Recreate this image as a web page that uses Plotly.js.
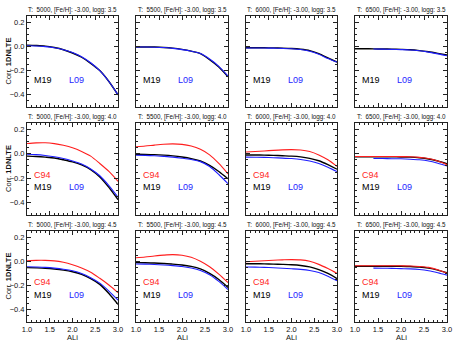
<!DOCTYPE html>
<html>
<head>
<meta charset="utf-8">
<script src="https://cdn.plot.ly/plotly-3.0.1.min.js"></script>
<style>
	body { margin: 0; padding: 0; background: #fff; }
	#graph { width: 471px; height: 356px; }
</style>
</head>
<body>
<div id="graph"></div>
<script>
"use strict";
// abundance grid (x axis)
var aLi = [1.0, 1.2, 1.4, 1.6, 1.8, 2.0, 2.2, 2.4, 2.6, 2.8, 3.0];
var teffs = [5000, 5500, 6000, 6500];
var loggs = ['3.5', '4.0', '4.5'];
var feh = '-3.00';

// logg 3.5, one list per Teff
var m19_g35 = [
	[0.01, 0.007, 0.002, -0.01, -0.028, -0.055, -0.09, -0.14, -0.2, -0.29, -0.40],
	[-0.005, -0.005, -0.006, -0.009, -0.015, -0.025, -0.04, -0.06, -0.11, -0.17, -0.25],
	[-0.012, -0.012, -0.012, -0.013, -0.015, -0.018, -0.024, -0.035, -0.06, -0.095, -0.13],
	[-0.02, -0.02, -0.021, -0.022, -0.023, -0.025, -0.028, -0.035, -0.045, -0.058, -0.072]
];
var l09_g35 = [
	[0.005, 0.003, -0.002, -0.012, -0.028, -0.05, -0.085, -0.135, -0.2, -0.29, -0.40],
	[-0.005, -0.005, -0.007, -0.01, -0.017, -0.027, -0.04, -0.06, -0.105, -0.165, -0.245],
	[-0.014, -0.014, -0.014, -0.015, -0.017, -0.02, -0.026, -0.04, -0.065, -0.1, -0.13],
	[null, null, -0.022, -0.023, -0.025, -0.027, -0.03, -0.037, -0.048, -0.062, -0.078]
];

// logg 4.0
var c94_g40 = [
	[0.083, 0.088, 0.089, 0.082, 0.068, 0.048, 0.018, -0.02, -0.08, -0.145, -0.225],
	[0.056, 0.062, 0.07, 0.077, 0.08, 0.076, 0.062, 0.035, -0.01, -0.08, -0.165],
	[0.014, 0.018, 0.022, 0.027, 0.031, 0.033, 0.03, 0.018, -0.01, -0.05, -0.104],
	[-0.023, -0.023, -0.023, -0.023, -0.023, -0.024, -0.025, -0.03, -0.04, -0.06, -0.09]
];
var m19_g40 = [
	[-0.02, -0.023, -0.028, -0.035, -0.05, -0.067, -0.092, -0.13, -0.19, -0.275, -0.375],
	[-0.005, -0.006, -0.008, -0.012, -0.018, -0.027, -0.04, -0.06, -0.095, -0.145, -0.205],
	[-0.011, -0.011, -0.012, -0.014, -0.017, -0.02, -0.026, -0.038, -0.058, -0.09, -0.127],
	[-0.026, -0.026, -0.026, -0.026, -0.026, -0.027, -0.028, -0.033, -0.043, -0.06, -0.082]
];
var l09_g40 = [
	[-0.005, -0.008, -0.015, -0.025, -0.04, -0.06, -0.085, -0.125, -0.18, -0.26, -0.355],
	[-0.013, -0.014, -0.017, -0.022, -0.028, -0.037, -0.048, -0.065, -0.105, -0.17, -0.245],
	[-0.028, -0.029, -0.03, -0.033, -0.036, -0.04, -0.047, -0.06, -0.08, -0.11, -0.146],
	[null, null, -0.04, -0.04, -0.041, -0.042, -0.045, -0.05, -0.06, -0.078, -0.1]
];

// logg 4.5
var c94_g45 = [
	[0.005, 0.008, 0.008, 0.004, -0.008, -0.028, -0.055, -0.09, -0.14, -0.195, -0.258],
	[0.03, 0.036, 0.044, 0.051, 0.055, 0.05, 0.033, 0.0, -0.045, -0.105, -0.175],
	[-0.003, 0.001, 0.005, 0.009, 0.012, 0.014, 0.012, 0.0, -0.025, -0.06, -0.1],
	[-0.036, -0.036, -0.036, -0.036, -0.036, -0.037, -0.038, -0.042, -0.05, -0.07, -0.1]
];
var m19_g45 = [
	[-0.052, -0.054, -0.057, -0.063, -0.072, -0.086, -0.108, -0.142, -0.19, -0.265, -0.355],
	[-0.011, -0.012, -0.014, -0.018, -0.023, -0.03, -0.042, -0.062, -0.1, -0.15, -0.215],
	[-0.02, -0.02, -0.021, -0.023, -0.025, -0.028, -0.034, -0.046, -0.068, -0.1, -0.142],
	[-0.04, -0.04, -0.04, -0.04, -0.04, -0.041, -0.043, -0.047, -0.056, -0.072, -0.094]
];
var l09_g45 = [
	[-0.045, -0.047, -0.05, -0.056, -0.065, -0.078, -0.1, -0.135, -0.18, -0.245, -0.32],
	[-0.022, -0.023, -0.026, -0.03, -0.035, -0.042, -0.055, -0.075, -0.11, -0.165, -0.232],
	[-0.047, -0.048, -0.05, -0.053, -0.057, -0.061, -0.066, -0.075, -0.092, -0.122, -0.16],
	[null, null, -0.056, -0.057, -0.058, -0.06, -0.062, -0.067, -0.077, -0.094, -0.114]
];

var c94Rows = [null, c94_g40, c94_g45];
var m19Rows = [m19_g35, m19_g40, m19_g45];
var l09Rows = [l09_g35, l09_g40, l09_g45];

var W = 471, H = 356;
// panel boxes in pixels
var colPx = [[27, 118], [136, 228], [246, 337], [355, 447]];
var rowPx = [[16, 107], [123, 215], [231, 322]];

var RED = 'rgb(255,30,30)';
var BLUE = 'rgb(30,30,255)';
var BLACK = 'rgb(0,0,0)';
var FONT = 'Liberation Sans, Arial, sans-serif';

var data = [];
var layout = {
	width: W,
	height: H,
	margin: {l: 0, r: 0, t: 0, b: 0},
	paper_bgcolor: 'white',
	plot_bgcolor: 'white',
	showlegend: false,
	font: {family: FONT, size: 7.5, color: '#111'},
	annotations: []
};

function line(y, color, width, k) {
	var sfx = k === 0 ? '' : String(k + 1);
	return {
		x: aLi,
		y: y,
		type: 'scatter',
		mode: 'lines',
		xaxis: 'x' + sfx,
		yaxis: 'y' + sfx,
		line: {color: color, width: width, shape: 'spline', smoothing: 0.8},
		connectgaps: false,
		hoverinfo: 'skip'
	};
}

for (var r = 0; r < 3; r++) {
	for (var c = 0; c < 4; c++) {
		var k = r * 4 + c;
		var sfx = k === 0 ? '' : String(k + 1);
		var xd = [colPx[c][0] / W, colPx[c][1] / W];
		var yd = [1 - rowPx[r][1] / H, 1 - rowPx[r][0] / H];

		layout['xaxis' + sfx] = {
			domain: xd,
			anchor: 'y' + sfx,
			range: [1.0, 3.0],
			tick0: 1.0,
			dtick: 0.5,
			tickformat: '.1f',
			ticks: 'inside',
			ticklen: 4,
			tickcolor: '#222',
			minor: {ticks: 'inside', dtick: 0.1, ticklen: 2, tickcolor: '#222'},
			showline: true,
			linecolor: '#222',
			linewidth: 1,
			mirror: 'allticks',
			showgrid: false,
			zeroline: false,
			showticklabels: r === 2,
			tickfont: {size: 7.5, family: FONT, color: '#111'}
		};
		layout['yaxis' + sfx] = {
			domain: yd,
			anchor: 'x' + sfx,
			range: [-0.5, 0.25],
			tick0: 0,
			dtick: 0.2,
			tickformat: '.1f',
			ticks: 'inside',
			ticklen: 4,
			tickcolor: '#222',
			minor: {ticks: 'inside', dtick: 0.05, ticklen: 2, tickcolor: '#222'},
			showline: true,
			linecolor: '#222',
			linewidth: 1,
			mirror: 'allticks',
			showgrid: false,
			zeroline: false,
			showticklabels: c === 0,
			tickfont: {size: 7.5, family: FONT, color: '#111'}
		};

		// curves (M19 below, L09 on top like the original)
		data.push(line(m19Rows[r][c], BLACK, 1.4, k));
		data.push(line(l09Rows[r][c], BLUE, 1.1, k));
		if (c94Rows[r]) {
			data.push(line(c94Rows[r][c], RED, 1.1, k));
		}

		// panel title
		layout.annotations.push({
			xref: 'paper', yref: 'paper',
			x: (xd[0] + xd[1]) / 2, y: yd[1],
			xanchor: 'center', yanchor: 'bottom', yshift: 0,
			showarrow: false,
			text: 'T:  ' + teffs[c] + ', [Fe/H]: ' + feh + ', logg: ' + loggs[r],
			font: {size: 6.3, family: FONT, color: '#111'}
		});

		// source labels
		if (c94Rows[r]) {
			layout.annotations.push({
				xref: 'x' + sfx, yref: 'y' + sfx, x: 1.1, y: -0.17,
				xanchor: 'left', yanchor: 'middle', showarrow: false,
				text: 'C94', font: {size: 9, family: FONT, color: RED}
			});
		}
		layout.annotations.push({
			xref: 'x' + sfx, yref: 'y' + sfx, x: 1.1, y: -0.275,
			xanchor: 'left', yanchor: 'middle', showarrow: false,
			text: 'M19', font: {size: 9, family: FONT, color: BLACK}
		});
		layout.annotations.push({
			xref: 'x' + sfx, yref: 'y' + sfx, x: 1.87, y: -0.275,
			xanchor: 'left', yanchor: 'middle', showarrow: false,
			text: 'L09', font: {size: 9, family: FONT, color: BLUE}
		});

		// axis titles
		if (c === 0) {
			layout.annotations.push({
				xref: 'paper', yref: 'paper',
				x: 8 / W, y: (yd[0] + yd[1]) / 2,
				xanchor: 'center', yanchor: 'middle', textangle: -90,
				showarrow: false,
				text: 'Corr. <b>1DNLTE</b>',
				font: {size: 7.5, family: FONT, color: '#111'}
			});
		}
		if (r === 2) {
			layout.annotations.push({
				xref: 'paper', yref: 'paper',
				x: (xd[0] + xd[1]) / 2, y: 1 - 337 / H,
				xanchor: 'center', yanchor: 'middle',
				showarrow: false,
				text: 'ALi',
				font: {size: 7.5, family: FONT, color: '#111'}
			});
		}
	}
}

Plotly.newPlot(document.getElementById('graph'), data, layout, {staticPlot: true});
</script>
</body>
</html>
